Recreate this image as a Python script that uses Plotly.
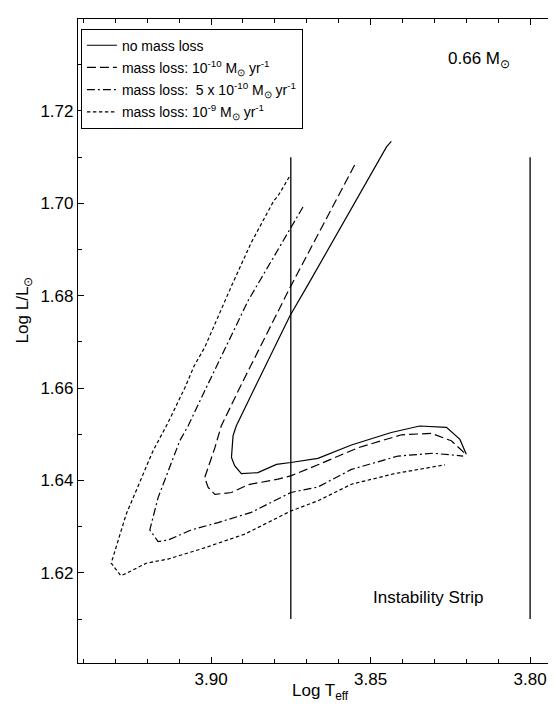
import plotly.graph_objects as go

# ---- data ----
teff_none = [3.8435, 3.8450, 3.8696, 3.8753, 3.8863, 3.8921, 3.8931, 3.8936,
             3.8926, 3.8905, 3.8853, 3.8795, 3.8750, 3.8665, 3.8560, 3.8435, 3.8346,
             3.8262, 3.8220, 3.8200]
lum_none = [1.7134, 1.7122, 1.6824, 1.6756, 1.6601, 1.6518, 1.6497, 1.6450,
            1.6432, 1.6415, 1.6417, 1.6435, 1.6439, 1.6448, 1.6477, 1.6504, 1.6518,
            1.6515, 1.6489, 1.6457]

teff_1e10 = [3.8550, 3.8665, 3.8696, 3.8753, 3.8910, 3.8968, 3.8988, 3.9020, 3.9009,
             3.8988, 3.8936, 3.8884, 3.8790, 3.8750, 3.8665, 3.8539, 3.8403, 3.8309,
             3.8247, 3.8200]
lum_1e10 = [1.7083, 1.6934, 1.6893, 1.6817, 1.6601, 1.6518, 1.6471, 1.6406, 1.6385,
            1.6370, 1.6374, 1.6391, 1.6403, 1.6410, 1.6434, 1.6471, 1.6499, 1.6502,
            1.6486, 1.6456]

teff_5e10 = [3.8712, 3.8753, 3.8884, 3.9015, 3.9072, 3.9098, 3.9166, 3.9192, 3.9166,
             3.9135, 3.9062, 3.8978, 3.8874, 3.8750, 3.8665, 3.8560, 3.8414, 3.8304,
             3.8210]
lum_5e10 = [1.6992, 1.6943, 1.6789, 1.6601, 1.6518, 1.6486, 1.6363, 1.6293, 1.6268,
            1.6271, 1.6293, 1.6309, 1.6331, 1.6374, 1.6386, 1.6424, 1.6453, 1.6459,
            1.6453]

teff_1e9 = [3.8755, 3.8790, 3.8803, 3.8866, 3.8874, 3.8936, 3.9020, 3.9053, 3.9082,
            3.9135, 3.9182, 3.9266, 3.9313, 3.9283, 3.9266, 3.9203, 3.9135, 3.9030,
            3.8894, 3.8750, 3.8665, 3.8560, 3.8424, 3.8267]
lum_1e9 = [1.7057, 1.7016, 1.7006, 1.6925, 1.6915, 1.6821, 1.6688, 1.6648, 1.6601,
           1.6525, 1.6464, 1.6327, 1.6221, 1.6194, 1.6199, 1.6221, 1.6230, 1.6252,
           1.6284, 1.6334, 1.6356, 1.6392, 1.6415, 1.6434]

strip_teff = [3.875, 3.800]
strip_lum = [1.610, 1.710]

x_ticks = [3.90, 3.85, 3.80]
y_ticks = [1.62, 1.64, 1.66, 1.68, 1.70, 1.72]

series_names = [
    "no mass loss",
    "mass loss: 10<sup>-10</sup> M<sub>⊙</sub> yr<sup>-1</sup>",
    "mass loss:  5 x 10<sup>-10</sup> M<sub>⊙</sub> yr<sup>-1</sup>",
    "mass loss: 10<sup>-9</sup> M<sub>⊙</sub> yr<sup>-1</sup>",
]

FONT = "Liberation Sans, Arial, Helvetica, sans-serif"

fig = go.Figure()
series = [(teff_none, lum_none, "solid"),
          (teff_1e10, lum_1e10, "9px,4px"),
          (teff_5e10, lum_5e10, "8px,3px,2px,3px"),
          (teff_1e9, lum_1e9, "3.5px,2.5px")]
for i, ((xs, ys, dash), name) in enumerate(zip(series, series_names)):
    fig.add_trace(go.Scatter(x=xs, y=ys, mode="lines", name=name, legendgroup=f"g{i}",
                             line=dict(color="black", width=1.2, dash=dash)))

for t in strip_teff:
    fig.add_trace(go.Scatter(x=[t, t], y=strip_lum, mode="lines", showlegend=False,
                             line=dict(color="black", width=1.3)))

fig.add_annotation(x=3.832, y=1.6146, xref="x", yref="y", text="Instability Strip",
                   showarrow=False, font=dict(size=17, color="black", family=FONT))
fig.add_annotation(x=3.8160, y=1.7310, xref="x", yref="y", text="0.66 M<sub>⊙</sub>",
                   showarrow=False, font=dict(size=17, color="black", family=FONT))
fig.add_annotation(x=-0.112, y=1.677, xref="paper", yref="y", text="Log L/L<sub>⊙</sub>",
                   textangle=-90, showarrow=False, xanchor="center",
                   font=dict(size=17, color="black", family=FONT))
fig.add_annotation(x=0.5, y=-0.045, xref="paper", yref="paper",
                   text="Log T<sub>eff</sub>", showarrow=False, yanchor="middle",
                   font=dict(size=17, color="black", family=FONT))

axis_common = dict(showgrid=False, zeroline=False, showline=True, linecolor="black",
                   linewidth=1.2, mirror="ticks", ticks="inside", ticklen=6,
                   tickwidth=1, tickcolor="black",
                   tickfont=dict(size=17, color="black", family=FONT),
                   minor=dict(ticks="inside", ticklen=4, tickwidth=1, tickcolor="black",
                              dtick=0.01))

fig.update_xaxes(range=[3.9417, 3.790], tickvals=x_ticks,
                 ticktext=[f"{v:.2f}" for v in x_ticks], **axis_common)
fig.update_yaxes(range=[1.6005, 1.7399], tickvals=y_ticks,
                 ticktext=[f"{v:.2f}" for v in y_ticks], **axis_common)

fig.update_layout(
    width=556, height=704,
    margin=dict(l=70, r=2, t=11, b=49),
    paper_bgcolor="white", plot_bgcolor="white",
    font=dict(family=FONT, color="black"),
    showlegend=True,
    legend=dict(x=0.006, y=0.985, xanchor="left", yanchor="top",
                bgcolor="white", bordercolor="black", borderwidth=1,
                font=dict(size=14, color="black", family=FONT),
                tracegroupgap=1, itemwidth=30),
)

fig.write_html("out.html")
